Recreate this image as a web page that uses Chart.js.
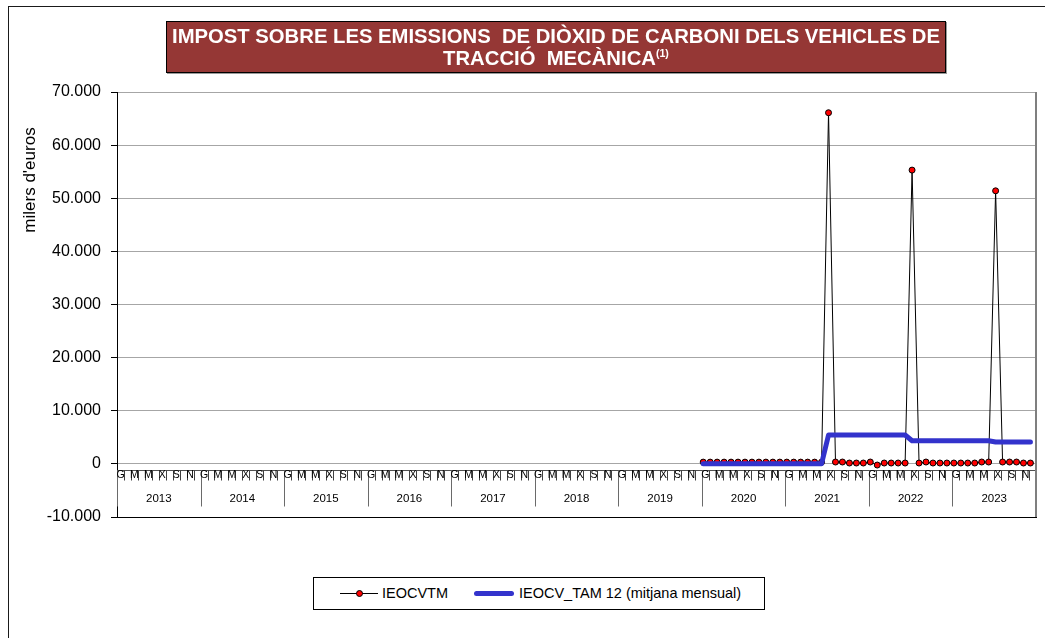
<!DOCTYPE html>
<html><head><meta charset="utf-8">
<script src="https://cdn.jsdelivr.net/npm/chart.js@4.4.0/dist/chart.umd.min.js"></script>
<style>
html,body{margin:0;padding:0;background:#fff;overflow:hidden;width:1045px;height:638px;}
#frame{position:absolute;left:8px;top:6px;width:1100px;height:700px;border:1px solid #1a1a1a;}
#wrap{position:absolute;left:0;top:0;width:1045px;height:638px;}
#title{position:absolute;left:166px;top:21px;width:778px;height:50px;background:#953735;border:1px solid #000;color:#fff;font-family:"Liberation Sans Narrow","Arial Narrow","Liberation Sans",sans-serif;font-weight:bold;font-size:21px;line-height:22px;box-shadow:1px 1px 0 #9a9a9a;overflow:hidden;}
#title .tl{position:absolute;left:50%;white-space:nowrap;transform-origin:50% 50%;}
#title sup{font-size:11px;vertical-align:8px;line-height:0;}
#ytitle{position:absolute;left:-70px;top:170px;width:200px;height:20px;line-height:20px;text-align:center;font-family:"Liberation Sans",sans-serif;font-size:17px;color:#000;transform:rotate(-90deg);transform-origin:50% 50%;}
#legend{position:absolute;left:313px;top:577px;width:450px;height:31px;border:1px solid #000;background:#fff;font-family:"Liberation Sans",sans-serif;font-size:14.5px;color:#000;}
.lg{position:absolute;}
</style></head>
<body>
<div id="frame"></div>
<div id="wrap"><canvas id="c" width="1045" height="638"></canvas></div>
<div id="title"><div class="tl" id="tl1" style="top:3px;">IMPOST SOBRE LES EMISSIONS&nbsp; DE DIÒXID DE CARBONI DELS VEHICLES DE</div><div class="tl" id="tl2" style="top:25px;">TRACCIÓ&nbsp; MECÀNICA<sup>(1)</sup></div></div>
<div id="ytitle">milers d'euros</div>
<div id="legend">
  <div class="lg" style="left:26px;top:15px;width:38px;height:1px;background:#000;"></div>
  <div class="lg" style="left:42px;top:12px;width:5px;height:5px;border-radius:50%;background:#f00;border:1px solid #000;"></div>
  <div class="lg" style="left:68px;top:6px;line-height:18px;">IEOCVTM</div>
  <div class="lg" style="left:160px;top:13px;width:40px;height:5px;border-radius:3px;background:#3333cc;"></div>
  <div class="lg" style="left:205px;top:6px;line-height:18px;white-space:nowrap;">IEOCV_TAM 12 (mitjana mensual)</div>
</div>
<script>
// Category labels
const years = ['2013','2014','2015','2016','2017','2018','2019','2020','2021','2022','2023'];
const monthLetters = ['G','','M','','M','','X','','S','','N',''];
// First month with data: Jan 2020 (month index from Jan 2013)
const firstDataMonth = 84;
// IEOCVTM, monthly, milers d'euros (Jan 2020 - Dec 2023)
const ieocvtm = [
  330, 330, 330, 330, 330, 330, 330, 330, 330, 330, 330, 330,
  330, 330, 330, 330, 330, 330, 66100, 350, 350, 160, 160, 160,
  350, -220, 160, 160, 160, 160, 55300, 160, 350, 160, 160, 160,
  160, 160, 160, 160, 350, 350, 51400, 350, 350, 350, 160, 160
];
// IEOCV_TAM 12 (mitjana mensual), milers d'euros (Jan 2020 - Dec 2023)
const tam12 = [
  30, 30, 30, 30, 30, 30, 30, 30, 30, 30, 30, 30,
  30, 30, 30, 30, 30, 30, 5430, 5430, 5430, 5430, 5430, 5430,
  5430, 5430, 5430, 5430, 5430, 5430, 4350, 4350, 4350, 4350, 4350, 4350,
  4350, 4350, 4350, 4350, 4350, 4350, 4120, 4120, 4120, 4120, 4120, 4120
];
const yTicks = [-10000, 0, 10000, 20000, 30000, 40000, 50000, 60000, 70000];

// fit the title's first line to the reference width (narrow bold face)
(function () {
  const l1 = document.getElementById('tl1'), l2 = document.getElementById('tl2');
  const s = Math.min(1, 768 / l1.getBoundingClientRect().width);
  l1.style.transform = 'translateX(-50%) scaleX(' + s + ')';
  l2.style.transform = 'translateX(-50%) scaleX(' + s + ')';
})();

const toPts = arr => arr.map((v, i) => ({x: firstDataMonth + i + 0.2, y: v}));
const fmt = v => {
  const s = Math.abs(v).toString().replace(/\B(?=(\d{3})+(?!\d))/g, '.');
  return (v < 0 ? '-' : '') + s;
};

const xAxisPlugin = {
  id: 'xcat',
  beforeDatasetsDraw(chart) {
    const ctx = chart.ctx, xs = chart.scales.x, ys = chart.scales.y;
    const y0 = Math.round(ys.getPixelForValue(0)) + 6.5;
    const L = chart.chartArea.left, R = chart.chartArea.right;
    ctx.save();
    ctx.strokeStyle = '#505050'; ctx.lineWidth = 1;
    ctx.beginPath(); ctx.moveTo(L, y0); ctx.lineTo(R, y0); ctx.stroke();
    const n = years.length * 12;
    for (let k = 0; k <= n; k++) {
      const x = Math.round(xs.getPixelForValue(k)) + 0.5;
      ctx.beginPath();
      if (k % 12 === 0) { ctx.strokeStyle = '#6a6a6a'; ctx.moveTo(x, y0); ctx.lineTo(x, y0 + 36); }
      else { ctx.strokeStyle = '#404040'; ctx.moveTo(x, y0); ctx.lineTo(x, y0 + 10); }
      ctx.stroke();
    }
    ctx.fillStyle = '#000'; ctx.textAlign = 'center'; ctx.textBaseline = 'middle';
    ctx.font = '10.5px "Liberation Sans", sans-serif';
    for (let k = 0; k < n; k++) {
      const lab = monthLetters[k % 12];
      if (lab) ctx.fillText(lab, xs.getPixelForValue(k + 0.5), y0 + 5);
    }
    ctx.font = '11.5px "Liberation Sans", sans-serif';
    years.forEach((yr, i) => ctx.fillText(yr, xs.getPixelForValue(i * 12 + 6), y0 + 28));
    // right border of plot area
    ctx.strokeStyle = '#7f7f7f'; ctx.lineWidth = 2;
    ctx.beginPath(); ctx.moveTo(R, chart.chartArea.top); ctx.lineTo(R, chart.chartArea.bottom); ctx.stroke();
    ctx.restore();
  }
};

new Chart(document.getElementById('c'), {
  type: 'line',
  data: {
    datasets: [
      {
        label: 'IEOCV_TAM 12 (mitjana mensual)',
        data: toPts(tam12),
        borderColor: '#3333cc', borderWidth: 5,
        borderCapStyle: 'round', borderJoinStyle: 'round',
        pointRadius: 0, tension: 0, fill: false
      },
      {
        label: 'IEOCVTM',
        data: toPts(ieocvtm),
        borderColor: '#000', borderWidth: 1,
        pointRadius: 3, pointBackgroundColor: '#ff0000',
        pointBorderColor: '#000', pointBorderWidth: 1,
        tension: 0, fill: false
      }
    ]
  },
  options: {
    responsive: false, animation: false, devicePixelRatio: 1,
    layout: {padding: {left: 0, top: 92, right: 9, bottom: 0}},
    plugins: {legend: {display: false}, tooltip: {enabled: false}, title: {display: false}},
    scales: {
      x: {
        type: 'linear', min: 0, max: years.length * 12,
        ticks: {display: false},
        grid: {display: false},
        border: {display: true, color: '#000', width: 1},
        afterFit: s => { s.height = 121; }
      },
      y: {
        min: -10000, max: 70000,
        afterBuildTicks: s => { s.ticks = yTicks.map(v => ({value: v})); },
        ticks: {
          callback: v => fmt(v), color: '#000', padding: 10,
          font: {family: '"Liberation Sans", sans-serif', size: 16}
        },
        grid: {color: '#a6a6a6', lineWidth: 1, tickColor: '#000', tickLength: 6},
        border: {display: true, color: '#000', width: 1},
        afterFit: s => { s.width = 117; }
      }
    }
  },
  plugins: [xAxisPlugin]
});
</script>
</body></html>
